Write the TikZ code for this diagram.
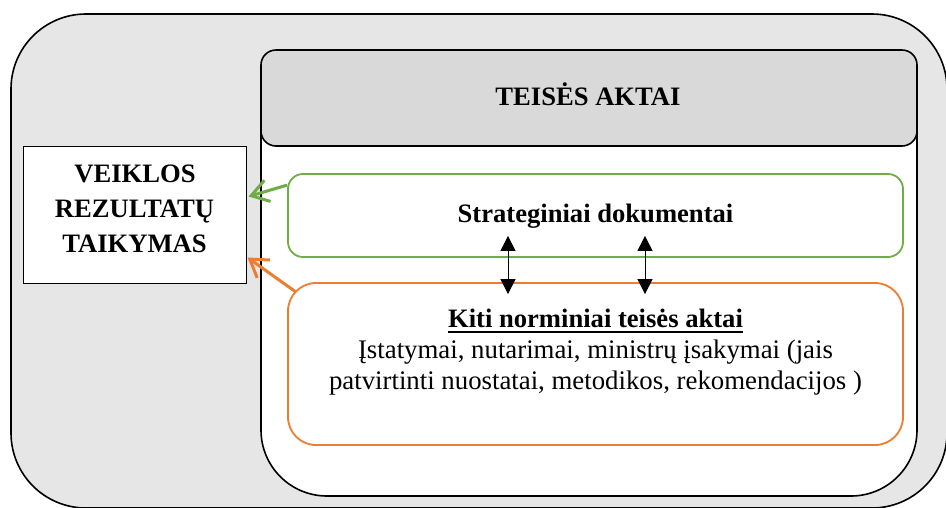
\documentclass[tikz,border=0pt]{standalone}
\usepackage{fontspec}
\setmainfont{Liberation Serif}
\usetikzlibrary{arrows.meta,calc}
\definecolor{outergray}{HTML}{E6E6E6}
\definecolor{headgray}{HTML}{D9D9D9}
\definecolor{stratgreen}{HTML}{70AD47}
\definecolor{lawsorange}{HTML}{ED7D31}
\tikzset{
  panel/.style={draw=black, line width=1.6pt},
  plaintext/.style={font=\fontsize{26.8}{31}\selectfont, inner sep=0pt, anchor=base},
  boldtext/.style={font=\fontsize{26.6}{31}\selectfont\bfseries, inner sep=0pt, anchor=base},
  feed/.style={line width=3pt, -{Straight Barb[length=17pt,width=22pt,line width=3pt]}},
  link/.style={line width=1pt, {Triangle[length=15pt,width=15pt]}-{Triangle[length=15pt,width=15pt]}}
}
\begin{document}
\begin{tikzpicture}[x=1pt,y=-1pt]
  \useasboundingbox (0,0) rectangle (946,507);
  % outer grey frame
  \path[panel, fill=outergray, rounded corners=75pt] (11,14) rectangle (947,508);
  % white container of the legal acts
  \path[panel, fill=white, rounded corners=66pt] (261,50) rectangle (917,496);
  % header
  \node[panel, fill=headgray, rounded corners=15pt, minimum width=656pt, minimum height=96pt,
        inner sep=0pt] (head) at (589,98) {};
  \node[boldtext] (headtext) at (588,105) {TEISĖS AKTAI};
  % left box
  \node[draw=black, line width=1pt, fill=white, minimum width=223pt, minimum height=137pt,
        inner sep=0pt] (use) at (134.5,214.5) {};
  \node[boldtext] (use1) at (135,182) {VEIKLOS};
  \node[boldtext] (use2) at (134.5,217) {REZULTATŲ};
  \node[boldtext] (use3) at (134.5,252) {TAIKYMAS};
  % strategic documents
  \node[draw=stratgreen, line width=1.8pt, fill=white, rounded corners=15pt,
        minimum width=615pt, minimum height=83pt, inner sep=0pt] (strat) at (595.5,215.5) {};
  \node[boldtext] (strattext) at (595.5,222) {Strateginiai dokumentai};
  % other normative acts
  \node[draw=lawsorange, line width=1.8pt, fill=white, rounded corners=28pt,
        minimum width=615pt, minimum height=162pt, inner sep=0pt] (laws) at (595.5,364) {};
  \node[boldtext] (lawshead) at (595.5,327) {Kiti norminiai teisės aktai};
  \draw[line width=2.4pt] ($(lawshead.base west)+(0,5)$) -- ($(lawshead.base east)+(0,5)$);
  \node[plaintext] (laws1) at (595.5,358.5) {Įstatymai, nutarimai, ministrų įsakymai (jais};
  \node[plaintext] (laws2) at (595.5,389) {patvirtinti nuostatai, metodikos, rekomendacijos )};
  % arrows towards the left box
  \coordinate (gs) at ($(strat.north west)+(0,12)$);
  \coordinate (gt) at ($(use.north east)+(2,51)$);
  \draw[feed, draw=stratgreen] (gs) -- (gt);
  \coordinate (os) at ($(laws.north west)+(9,10)$);
  \coordinate (ot) at ($(use.south east)+(1,-26)$);
  \draw[feed, draw=lawsorange] (os) -- (ot);
  % two-way links between the boxes
  \coordinate (a1) at ($(strat.south -| 508,0)+(0,-22)$);
  \coordinate (b1) at ($(laws.north -| 508,0)+(0,12)$);
  \coordinate (a2) at ($(strat.south -| 645,0)+(0,-22)$);
  \coordinate (b2) at ($(laws.north -| 645,0)+(0,12)$);
  \draw[link] (a1) -- (b1);
  \draw[link] (a2) -- (b2);
\end{tikzpicture}
\end{document}
